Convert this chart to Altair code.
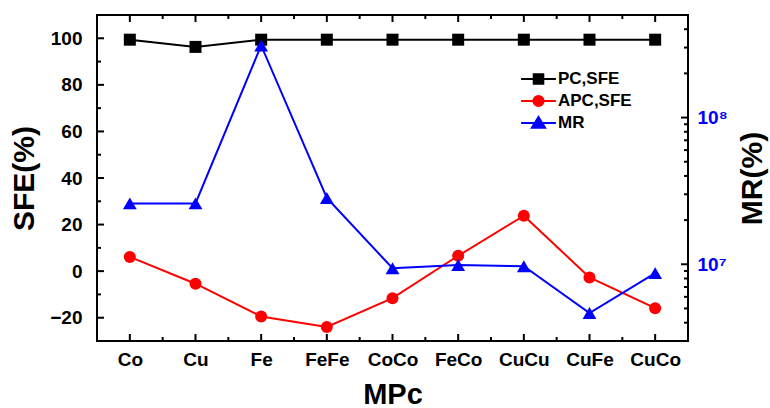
import altair as alt
import pandas as pd

# ---------------- data ----------------
categories = ["Co", "Cu", "Fe", "FeFe", "CoCo", "FeCo", "CuCu", "CuFe", "CuCo"]
pc_sfe = [99.4, 96.3, 99.4, 99.4, 99.4, 99.4, 99.4, 99.4, 99.4]
apc_sfe = [6.1, -5.4, -19.5, -24.0, -11.6, 6.6, 23.8, -2.7, -15.9]
mr = [2.6e7, 2.6e7, 3.1e8, 2.83e7, 9.4e6, 9.9e6, 9.7e6, 4.65e6, 8.7e6]

series_names = ["PC,SFE", "APC,SFE", "MR"]
series_colors = ["#000000", "#ff0000", "#0000ff"]

sfe_domain = [-30, 110]
sfe_major = [-20, 0, 20, 40, 60, 80, 100]
sfe_minor = [-10, 10, 30, 50, 70, 90]
mr_domain = [3e6, 5e8]
mr_major = [1e7, 1e8]
mr_minor = [4e6, 5e6, 6e6, 7e6, 8e6, 9e6,
            2e7, 3e7, 4e7, 5e7, 6e7, 7e7, 8e7, 9e7,
            2e8, 3e8, 4e8]

idx = list(range(len(categories)))
x_major = idx
x_minor = [i + 0.5 for i in idx[:-1]]

sfe_df = pd.DataFrame({
    "idx": idx * 2,
    "cat": categories * 2,
    "series": [series_names[0]] * len(idx) + [series_names[1]] * len(idx),
    "value": pc_sfe + apc_sfe,
})
mr_df = pd.DataFrame({"idx": idx, "cat": categories, "series": series_names[2], "value": mr})

# ---------------- style ----------------
FONT = "Liberation Sans"
W, H = 591, 326
MAJ, MIN = 7, 4

x_scale = alt.Scale(domain=[-0.5, len(categories) - 0.5], nice=False, zero=False)
sfe_scale = alt.Scale(domain=sfe_domain, nice=False, zero=False)
mr_scale = alt.Scale(type="log", domain=mr_domain, nice=False)
sfe_color = alt.Color("series:N", scale=alt.Scale(domain=series_names[:2], range=series_colors[:2]),
                      legend=None)
mr_color = alt.Color("series:N", scale=alt.Scale(domain=series_names[2:], range=series_colors[2:]),
                     legend=None)

label_expr = "[" + ",".join("'%s'" % c for c in categories) + "][datum.value]"

label_style = dict(ticks=False, domain=False, grid=False, zindex=1)
x_main_axis = alt.Axis(orient="bottom", values=x_major, labelExpr=label_expr,
                       labelPadding=9, labelFlush=False, labelOverlap=False,
                       labelFontSize=19, title="MPc", titleFontSize=29, titlePadding=11, **label_style)
y_left_axis = alt.Axis(orient="left", values=sfe_major, labelPadding=15,
                       labelFontSize=19, title="SFE(%)", titleFontSize=30, titlePadding=10,
                       **label_style)
y_right_axis = alt.Axis(orient="right", values=mr_major,
                        labelExpr="datum.value >= 5e7 ? '10⁸' : '10⁷'",
                        labelColor="#0000ff", labelPadding=9,
                        labelFontSize=19, title="MR(%)", titleFontSize=30,
                        titleAngle=270, titleBaseline="top", titlePadding=10, **label_style)


def X(field):
    return alt.X(field, scale=x_scale, axis=x_main_axis)


def Y_sfe(field):
    return alt.Y(field, scale=sfe_scale, axis=y_left_axis)


def Y_mr(field):
    return alt.Y(field, scale=mr_scale, axis=y_right_axis)


# inward tick marks along the frame (values placed through the chart's own scales)
def y_ticks(values, yenc, size, at_right):
    pos = (W - size / 2) if at_right else size / 2
    return alt.Chart(pd.DataFrame({"v": values})).mark_tick(
        orient="horizontal", size=size, thickness=2, color="black", opacity=1
    ).encode(y=yenc("v:Q"), x=alt.value(pos))


def x_ticks(values, size, at_bottom):
    pos = (H - size / 2) if at_bottom else size / 2
    return alt.Chart(pd.DataFrame({"v": values})).mark_tick(
        orient="vertical", size=size, thickness=2, color="black", opacity=1
    ).encode(x=X("v:Q"), y=alt.value(pos))


# ---------------- SFE group ----------------
base_sfe = alt.Chart(sfe_df)
sfe_line = base_sfe.mark_line(strokeWidth=2).encode(
    x=X("idx:Q"), y=Y_sfe("value:Q"), color=sfe_color,
)
sfe_pts = base_sfe.mark_point(filled=True, opacity=1, size=144).encode(
    x=X("idx:Q"), y=Y_sfe("value:Q"), color=sfe_color,
    shape=alt.Shape("series:N", scale=alt.Scale(domain=series_names[:2], range=["square", "circle"]),
                    legend=None),
)
sfe_group = alt.layer(
    sfe_line, sfe_pts,
    y_ticks(sfe_major, Y_sfe, MAJ, False), y_ticks(sfe_minor, Y_sfe, MIN, False),
    x_ticks(x_major, MAJ, True), x_ticks(x_minor, MIN, True),
    x_ticks(x_major, MAJ, False), x_ticks(x_minor, MIN, False),
)

# ---------------- MR group ----------------
base_mr = alt.Chart(mr_df)
mr_line = base_mr.mark_line(strokeWidth=2).encode(
    x=X("idx:Q"), y=Y_mr("value:Q"), color=mr_color,
)
mr_pts = base_mr.mark_point(filled=True, opacity=1, size=190, shape="triangle-up").encode(
    x=X("idx:Q"), y=Y_mr("value:Q"), color=mr_color,
)
mr_group = alt.layer(
    mr_line, mr_pts,
    y_ticks(mr_major, Y_mr, MAJ, True), y_ticks(mr_minor, Y_mr, MIN, True),
)

# ---------------- legend (one single-entry legend per series) ----------------
legend_paths = [
    "M-2.9,0H2.9M-0.8,-0.8H0.8V0.8H-0.8Z",
    "M-2.9,0H2.9M0.85,0A0.85,0.85,0,1,1,-0.85,0A0.85,0.85,0,1,1,0.85,0Z",
    "M-2.9,0H2.9M0,-1.0L1.1,0.8H-1.1Z",
]
legend_layers = []
for i, (name, col, path) in enumerate(zip(series_names, series_colors, legend_paths)):
    legend_layers.append(
        alt.Chart(alt.InlineData(values=[])).mark_point(filled=True, opacity=1, strokeWidth=2).encode(
            color=alt.Color("series:N", scale=alt.Scale(domain=[name], range=[col]),
                            legend=alt.Legend(title=None, orient="none", legendX=433,
                                              legendY=55.5 + 22 * i, padding=0,
                                              symbolType=path, symbolSize=144, symbolStrokeWidth=2,
                                              symbolFillColor=col, symbolStrokeColor=col,
                                              symbolOpacity=1, labelFont=FONT, labelFontSize=17,
                                              labelFontWeight="bold", labelColor="black",
                                              labelOffset=11))
        )
    )

chart = (
    alt.layer(sfe_group, mr_group, *legend_layers)
    .resolve_scale(y="independent", color="independent")
    .properties(width=W, height=H, background="white",
                padding={"left": 97, "top": 15, "right": 82, "bottom": 67},
                autosize=alt.AutoSizeParams(type="none"))
    .configure_view(stroke="black", strokeWidth=2)
    .configure_axis(labelFont=FONT, titleFont=FONT, labelFontWeight="bold", titleFontWeight="bold",
                    labelColor="black", titleColor="black")
)

chart.save("out.html", embed_options={"renderer": "svg", "actions": False})
